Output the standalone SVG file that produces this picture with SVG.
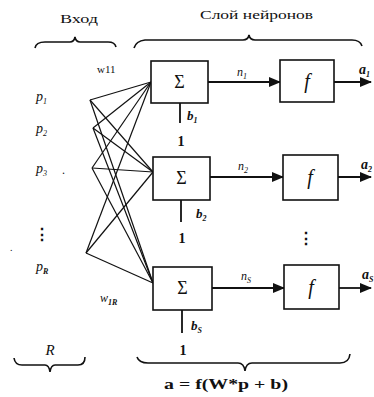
<svg xmlns="http://www.w3.org/2000/svg" width="374" height="397" viewBox="0 0 374 397">
<style>
.box{fill:#fff;stroke:#111;stroke-width:1.6}
.ln{stroke:#111;stroke-width:1.2;fill:none}
.ar{stroke:#111;stroke-width:1.8;fill:none}
.br{stroke:#111;stroke-width:1.6;fill:none}
.t{font-family:"Liberation Serif",serif;fill:#111}
.i{font-family:"Liberation Serif",serif;font-style:italic;fill:#111}
</style>
<defs>
<marker id="ah" markerWidth="12" markerHeight="10" refX="11" refY="5" orient="auto" markerUnits="userSpaceOnUse">
<path d="M0,0 L12,5 L0,10 Z" fill="#111"/>
</marker>
</defs>
<g id="braces">
<path class="br" d="M35,48 Q36,42 45,42 L70,42 Q74,42 75,37 Q76,42 80,42 L108,42 Q115,42 116,47"/>
<path class="br" d="M134,48 Q136,41 145,40 L243,40 Q248,40 249,35 Q250,40 255,40 L352,40 Q360,40 362,46"/>
<path class="br" d="M14,358 Q15,365 22,365 L45,365 Q49,365 50,372 Q51,365 55,365 L78,365 Q85,365 85,357"/>
<path class="br" d="M137,357 Q139,363 148,363 L238,363 Q244,363 245,371 Q246,363 252,363 L340,363 Q349,363 350,354"/>
</g>
<g id="connectors">
<g class="ln">
<line x1="90" y1="100" x2="151" y2="82"/>
<line x1="90" y1="100" x2="153" y2="172"/>
<line x1="90" y1="100" x2="153" y2="283"/>
<line x1="93" y1="128" x2="151" y2="82"/>
<line x1="93" y1="128" x2="153" y2="172"/>
<line x1="93" y1="128" x2="153" y2="283"/>
<line x1="92" y1="168" x2="151" y2="82"/>
<line x1="92" y1="168" x2="153" y2="172"/>
<line x1="92" y1="168" x2="153" y2="283"/>
<line x1="86" y1="253" x2="151" y2="82"/>
<line x1="86" y1="253" x2="153" y2="172"/>
<line x1="86" y1="253" x2="153" y2="283"/>
</g>
<line class="ar" x1="208" y1="82" x2="280" y2="82" marker-end="url(#ah)"/>
<line class="ar" x1="210" y1="177" x2="283" y2="177" marker-end="url(#ah)"/>
<line class="ar" x1="212" y1="288" x2="284" y2="288" marker-end="url(#ah)"/>
<line class="ar" x1="334" y1="82" x2="371" y2="82" marker-end="url(#ah)"/>
<line class="ar" x1="338" y1="177" x2="371" y2="177" marker-end="url(#ah)"/>
<line class="ar" x1="339" y1="288" x2="371" y2="288" marker-end="url(#ah)"/>
<line class="ar" x1="180" y1="103" x2="180" y2="123"/>
<line class="ar" x1="181" y1="200" x2="181" y2="222"/>
<line class="ar" x1="182" y1="310" x2="182" y2="333"/>
</g>
<g id="sum1"><rect class="box" x="151" y="61" width="57" height="42"/><text class="t" x="179.5" y="88" font-size="18" text-anchor="middle">Σ</text></g>
<g id="sum2"><rect class="box" x="153" y="157" width="57" height="43"/><text class="t" x="181.5" y="184" font-size="18" text-anchor="middle">Σ</text></g>
<g id="sum3"><rect class="box" x="153" y="267" width="59" height="43"/><text class="t" x="182.5" y="294" font-size="18" text-anchor="middle">Σ</text></g>
<g id="f1"><rect class="box" x="280" y="60" width="54" height="42"/><text class="i" x="307" y="88" font-size="20" text-anchor="middle">f</text></g>
<g id="f2"><rect class="box" x="283" y="155" width="55" height="45"/><text class="i" x="310" y="184" font-size="20" text-anchor="middle">f</text></g>
<g id="f3"><rect class="box" x="284" y="265" width="55" height="44"/><text class="i" x="311" y="294" font-size="20" text-anchor="middle">f</text></g>
<g id="labels">
<text class="t" x="60" y="23" font-size="13" textLength="38" lengthAdjust="spacingAndGlyphs">Вход</text>
<text class="t" x="200" y="19" font-size="13" textLength="113" lengthAdjust="spacingAndGlyphs">Слой нейронов</text>
<text class="t" x="97" y="73" font-size="11">w11</text>
<text class="i" x="100" y="302" font-size="12">w<tspan font-size="8" dy="3" font-weight="bold">1R</tspan></text>
<text class="i" x="36" y="101" font-size="14">p<tspan font-size="8" dy="3">1</tspan></text>
<text class="i" x="36" y="133" font-size="14">p<tspan font-size="8" dy="3">2</tspan></text>
<text class="i" x="36" y="173" font-size="14">p<tspan font-size="8" dy="3">3</tspan></text>
<text class="t" x="62" y="174" font-size="12">.</text>
<text class="t" x="42" y="240" font-size="16" font-weight="bold" text-anchor="middle">⋮</text>
<text class="t" x="10" y="251" font-size="10">.</text>
<text class="i" x="36" y="271" font-size="14">p<tspan font-size="8" dy="3" font-weight="bold">R</tspan></text>
<text class="i" x="50" y="355" font-size="15" text-anchor="middle">R</text>
<text class="i" x="237" y="76" font-size="12">n<tspan font-size="8" dy="3">1</tspan></text>
<text class="i" x="238" y="170" font-size="12">n<tspan font-size="8" dy="3">2</tspan></text>
<text class="i" x="241" y="280" font-size="12">n<tspan font-size="8" dy="3">S</tspan></text>
<text class="i" x="359" y="74" font-size="14" font-weight="bold">a<tspan font-size="8" dy="3">1</tspan></text>
<text class="i" x="361" y="169" font-size="14" font-weight="bold">a<tspan font-size="8" dy="3">2</tspan></text>
<text class="i" x="362" y="279" font-size="14" font-weight="bold">a<tspan font-size="8" dy="3">S</tspan></text>
<text class="i" x="187" y="120" font-size="13" font-weight="bold">b<tspan font-size="8" dy="3">1</tspan></text>
<text class="i" x="196" y="218" font-size="13" font-weight="bold">b<tspan font-size="8" dy="3">2</tspan></text>
<text class="i" x="191" y="330" font-size="13" font-weight="bold">b<tspan font-size="8" dy="3">S</tspan></text>
<text class="t" x="181" y="146" font-size="14" font-weight="bold" text-anchor="middle">1</text>
<text class="t" x="182" y="243" font-size="14" font-weight="bold" text-anchor="middle">1</text>
<text class="t" x="183" y="355" font-size="14" font-weight="bold" text-anchor="middle">1</text>
<text class="t" x="306" y="244" font-size="16" font-weight="bold" text-anchor="middle">⋮</text>
<text class="t" x="164" y="389" font-size="15" font-weight="bold" textLength="124" lengthAdjust="spacingAndGlyphs">a = f(W*p + b)</text>
</g>
</svg>
